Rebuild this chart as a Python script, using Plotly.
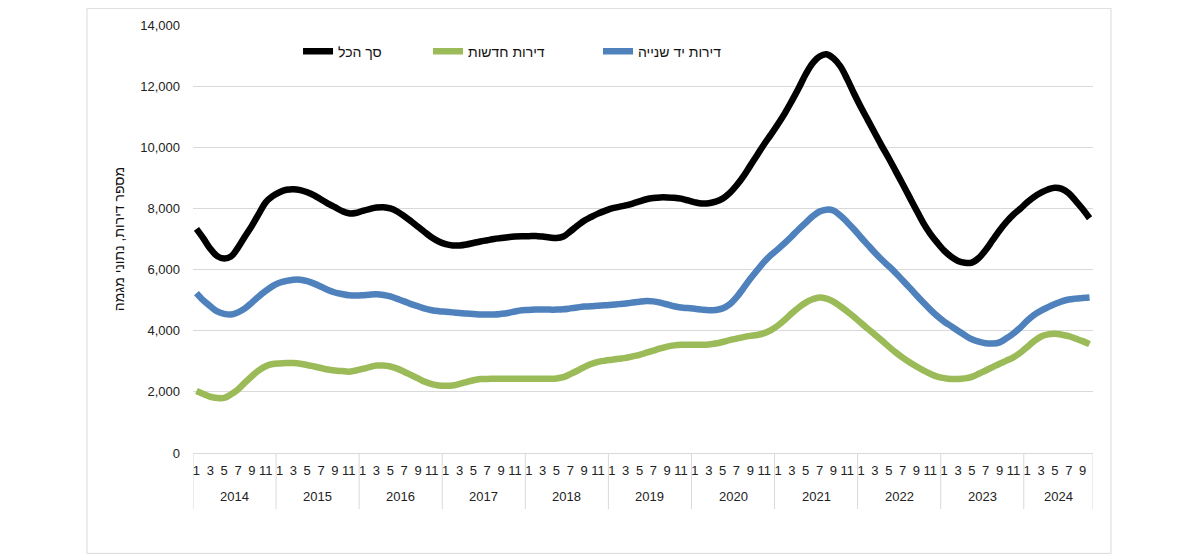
import plotly.graph_objects as go

years = [2014, 2015, 2016, 2017, 2018, 2019, 2020, 2021, 2022, 2023, 2024]
months_per_year = [12, 12, 12, 12, 12, 12, 12, 12, 12, 12, 10]

series_names = ["סך הכל", "דירות חדשות", "דירות יד שנייה"]
series_colors = ["#000000", "#9BBB59", "#4F81BD"]

total = [
    7330, 7020, 6680, 6440, 6360, 6430, 6720, 7080, 7430, 7820, 8200, 8400,
    8530, 8610, 8630, 8600, 8530, 8430, 8290, 8160, 8040, 7920, 7840, 7850,
    7920, 7980, 8030, 8040, 8000, 7900, 7750, 7580, 7400, 7220, 7050, 6920,
    6830, 6790, 6790, 6820, 6870, 6920, 6960, 7000, 7030, 7060, 7080, 7090,
    7090, 7100, 7080, 7050, 7030, 7080, 7250, 7430, 7600, 7720, 7830, 7920,
    8000, 8050, 8100, 8160, 8230, 8300, 8340, 8360, 8360, 8350, 8320, 8260,
    8200, 8160, 8170, 8220, 8320, 8500, 8750, 9050, 9400, 9750, 10100, 10420,
    10760, 11120, 11520, 11940, 12390, 12750, 12970, 13040, 12910, 12650, 12230, 11750,
    11300, 10880, 10460, 10040, 9640, 9220, 8800, 8370, 7940, 7520, 7170, 6880,
    6620, 6420, 6280, 6220, 6230, 6380, 6640, 6960, 7280, 7560, 7800, 7990,
    8200, 8380, 8520, 8620, 8680, 8640, 8500, 8250, 7980, 7680,
]

new_apts = [
    2030, 1930, 1840, 1800, 1800, 1920, 2080, 2300, 2510, 2700, 2840, 2910,
    2930, 2940, 2940, 2920, 2880, 2830, 2780, 2730, 2700, 2680, 2660, 2700,
    2750, 2810, 2860, 2860, 2830, 2760, 2660, 2550, 2440, 2330, 2250, 2210,
    2200, 2210, 2260, 2320, 2380, 2420, 2420, 2430, 2430, 2430, 2430, 2430,
    2430, 2430, 2430, 2430, 2440, 2480, 2580, 2690, 2810, 2910, 2980, 3020,
    3050, 3080, 3110, 3160, 3210, 3280, 3350, 3420, 3480, 3520, 3540, 3540,
    3540, 3540, 3550, 3580, 3630, 3690, 3740, 3790, 3830, 3860, 3920, 4020,
    4170, 4360, 4570, 4760, 4920, 5030, 5090, 5050, 4950, 4800, 4630, 4450,
    4250, 4060, 3870, 3680, 3480, 3290, 3120, 2970, 2830, 2700, 2590, 2500,
    2450, 2420, 2420, 2440, 2490, 2590, 2700, 2810, 2920, 3020, 3130, 3280,
    3470, 3660, 3810, 3880, 3900, 3870, 3820, 3740, 3660, 3560,
]

second_hand = [
    5230, 4990, 4800, 4630, 4550, 4530, 4600, 4730, 4920, 5120, 5300, 5460,
    5570, 5630, 5670, 5670, 5620, 5540, 5440, 5330, 5250, 5200, 5160, 5150,
    5160, 5180, 5190, 5170, 5120, 5040, 4960, 4870, 4800, 4720, 4670, 4640,
    4620, 4600, 4580, 4560, 4550, 4530, 4530, 4530, 4550, 4580, 4630, 4670,
    4680, 4690, 4690, 4690, 4690, 4700, 4730, 4760, 4790, 4800, 4820, 4830,
    4850, 4870, 4890, 4920, 4950, 4970, 4960, 4920, 4860, 4800, 4760, 4740,
    4720, 4690, 4670, 4680, 4730, 4860, 5090, 5390, 5700, 5980, 6250, 6480,
    6670, 6870, 7090, 7320, 7530, 7740, 7900, 7960, 7930, 7770, 7550, 7310,
    7050, 6800, 6550, 6320, 6110, 5890, 5650, 5410, 5160, 4920, 4690, 4480,
    4300, 4150, 4000, 3850, 3720, 3640, 3590, 3580, 3620, 3750, 3910, 4100,
    4330, 4520, 4660, 4770, 4870, 4960, 5020, 5050, 5070, 5090,
]

y_ticks = [0, 2000, 4000, 6000, 8000, 10000, 12000, 14000]
y_title = "מספר דירות, נתוני מגמה"

# build category index
month_labels = []
year_of_point = []
for yr, n in zip(years, months_per_year):
    for m in range(1, n + 1):
        month_labels.append(m)
        year_of_point.append(yr)
x_idx = list(range(len(month_labels)))

FONT = "Liberation Sans, Arial, sans-serif"
GRID = "#d9d9d9"

fig = go.Figure()
legend_ids = ["legend", "legend2", "legend3"]
for name, color, vals, lg in zip(series_names, series_colors, [total, new_apts, second_hand], legend_ids):
    fig.add_trace(go.Scatter(
        x=x_idx, y=vals, mode="lines", name=name,
        line=dict(color=color, width=6.5, shape="spline", smoothing=1.0),
        legend=lg,
    ))

tickvals = [i for i, m in zip(x_idx, month_labels) if m % 2 == 1]
ticktext = [str(m) for m in month_labels if m % 2 == 1]

# year labels and separators
annotations = []
shapes = []
start = 0
for yr, n in zip(years, months_per_year):
    annotations.append(dict(
        x=start + (n - 1) / 2, y=-0.101, xref="x", yref="paper",
        text=str(yr), showarrow=False, yanchor="middle", xanchor="center",
        font=dict(family=FONT, size=13, color="#222"),
    ))
    shapes.append(dict(type="line", xref="x", yref="paper",
                       x0=start - 0.5, x1=start - 0.5, y0=0, y1=-0.131,
                       line=dict(color=GRID, width=1)))
    start += n
shapes.append(dict(type="line", xref="x", yref="paper",
                   x0=start - 0.5, x1=start - 0.5, y0=0, y1=-0.131,
                   line=dict(color=GRID, width=1)))
# chart area border
shapes.append(dict(type="rect", xref="paper", yref="paper",
                   x0=-0.1178, x1=1.02, y0=-0.2345, y1=1.039,
                   line=dict(color=GRID, width=1), layer="below"))

leg_common = dict(orientation="h", yanchor="middle", y=0.938, xanchor="left",
                  bgcolor="rgba(0,0,0,0)", font=dict(family=FONT, size=14, color="#111"))

fig.update_layout(
    width=1192, height=549,
    margin=dict(l=185, r=107, t=10, b=104),
    paper_bgcolor="white", plot_bgcolor="white",
    font=dict(family=FONT, size=13, color="#222"),
    showlegend=True,
    legend=dict(x=0.1167, **leg_common),
    legend2=dict(x=0.2611, **leg_common),
    legend3=dict(x=0.45, **leg_common),
    xaxis=dict(
        range=[-0.5, len(x_idx) - 0.5], tickmode="array",
        tickvals=tickvals, ticktext=ticktext, showgrid=False,
        showline=True, linecolor=GRID, linewidth=1, ticks="",
        zeroline=False, ticklabelstandoff=5,
        tickfont=dict(family=FONT, size=13, color="#222"),
    ),
    yaxis=dict(
        range=[0, 14000], tickvals=y_ticks, tickformat=",d",
        showgrid=True, gridcolor=GRID, gridwidth=1, zeroline=False,
        showline=False, ticks="", ticklabelstandoff=12,
        tickfont=dict(family=FONT, size=13, color="#222"),
        title=dict(text=y_title, standoff=12,
                   font=dict(family=FONT, size=14, color="#111")),
    ),
    annotations=annotations,
    shapes=shapes,
)

fig.write_html("out.html")
